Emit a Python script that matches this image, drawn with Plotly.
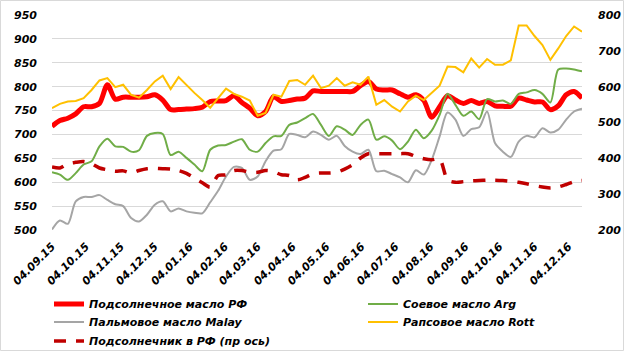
import pandas as pd
import plotly.graph_objects as go

dates = pd.date_range("2015-09-04", periods=68, freq="7D")

sunoil_rf = [717,729,734,743,758,758,765,804,774,778,778,778,779,783,772,752,752,
             753,754,757,769,770,771,781,767,755,739,748,779,769,771,774,776,791,
             790,790,790,790,790,802,811,795,793,793,785,778,783,771,736,758,781,
             772,765,771,765,769,760,759,759,776,772,768,768,752,760,783,790,776]
soy_arg = [621,616,605,619,637,644,675,691,675,674,664,667,697,703,701,657,664,
           651,637,623,668,677,678,685,690,668,664,682,696,697,720,725,734,743,
           720,697,717,710,699,720,731,689,696,687,669,685,710,692,708,741,785,
           762,739,748,732,774,769,771,764,785,788,793,785,767,836,838,836,832]
palm_malay = [501,520,513,560,569,569,573,563,554,550,525,518,532,553,560,539,545,
              539,536,535,558,582,612,632,630,605,612,644,666,669,701,699,694,706,
              699,689,697,676,664,659,668,623,624,617,610,600,625,616,647,696,746,
              731,697,711,715,748,682,664,653,685,697,694,713,704,710,731,748,754]
rape_rott = [755,764,769,770,776,793,813,818,799,804,783,777,793,811,823,795,820,
             803,787,772,756,776,796,785,779,771,739,745,783,779,812,814,804,823,
             797,802,818,802,809,804,821,762,772,758,748,769,781,772,786,802,842,
             841,830,859,840,858,846,846,855,928,928,906,887,856,880,906,926,915]
seed_rf = [376,373,385,389,391,385,373,368,364,365,359,366,371,372,371,370,366,
           358,345,332,320,352,354,366,366,361,361,366,363,354,352,340,347,357,
           359,359,361,370,382,401,413,413,413,413,413,413,405,399,396,398,340,
           333,335,337,338,339,339,338,336,333,329,324,320,317,320,327,335,338]

tick_dates = pd.date_range("2015-09-01", periods=16, freq="MS") + pd.Timedelta(days=3)
tick_labels = ["04.09.15","04.10.15","04.11.15","04.12.15","04.01.16","04.02.16",
               "04.03.16","04.04.16","04.05.16","04.06.16","04.07.16","04.08.16",
               "04.09.16","04.10.16","04.11.16","04.12.16"]
left_ticks = list(range(500, 951, 50))
right_ticks = list(range(200, 801, 100))

W, H = 624, 351
ML, MR, MT, MB = 52, 42, 15, 121
FONT = "DejaVu Sans"

fig = go.Figure()
fig.add_trace(go.Scatter(x=dates, y=sunoil_rf, name="Подсолнечное масло РФ", legend="legend",
                         line=dict(color="#FF0000", width=5, shape="spline", smoothing=0.8)))
fig.add_trace(go.Scatter(x=dates, y=soy_arg, name="Соевое масло Arg", legend="legend2",
                         line=dict(color="#70AD47", width=2, shape="spline", smoothing=0.8)))
fig.add_trace(go.Scatter(x=dates, y=palm_malay, name="Пальмовое масло Malay", legend="legend3",
                         line=dict(color="#A5A5A5", width=2, shape="spline", smoothing=0.8)))
fig.add_trace(go.Scatter(x=dates, y=rape_rott, name="Рапсовое масло Rott", legend="legend4",
                         line=dict(color="#FFC000", width=2)))
fig.add_trace(go.Scatter(x=dates, y=seed_rf, name="Подсолнечник в РФ (пр ось)", yaxis="y2",
                         legend="legend5",
                         line=dict(color="#C00000", width=3.5, dash="12px,10px",
                                   shape="spline", smoothing=0.8)))

tickfont = dict(family=FONT, size=11, color="#000000", weight="bold", style="italic")
legfont = dict(family=FONT, size=11, color="#000000", weight="bold", style="italic")
pw = W - ML - MR
ph = H - MT - MB
common_leg = dict(orientation="v", xref="container", yref="container",
                  xanchor="left", yanchor="middle", font=legfont,
                  bgcolor="rgba(0,0,0,0)", traceorder="normal")
col1, col2 = 49 / W, 363 / W
row1, row2, row3 = 1 - 304 / H, 1 - 322 / H, 1 - 341 / H
fig.update_layout(
    width=W, height=H,
    margin=dict(l=ML, r=MR, t=MT, b=MB, autoexpand=False),
    paper_bgcolor="white", plot_bgcolor="white",
    showlegend=True,
    legend=dict(x=col1, y=row1, **common_leg),
    legend2=dict(x=col2, y=row1, **common_leg),
    legend3=dict(x=col1, y=row2, **common_leg),
    legend4=dict(x=col2, y=row2, **common_leg),
    legend5=dict(x=col1, y=row3, **common_leg),
    xaxis=dict(type="date", range=[dates[0], dates[-1]],
               tickvals=tick_dates, ticktext=tick_labels, tickangle=-45,
               tickfont=tickfont, showgrid=False, zeroline=False, showline=False,
               ticks="", ticklabelstandoff=7, automargin=False),
    yaxis=dict(range=[500, 950], tickvals=left_ticks, tickfont=tickfont,
               showgrid=True, gridcolor="#D9D9D9", gridwidth=1, zeroline=False,
               showline=False, ticks="", ticklabelstandoff=14, automargin=False),
    yaxis2=dict(range=[200, 800], tickvals=right_ticks, tickfont=tickfont,
                overlaying="y", side="right", showgrid=False, zeroline=False,
                showline=False, ticks="", ticklabelstandoff=15, automargin=False),
    shapes=[dict(type="rect", xref="paper", yref="paper",
                 x0=-ML / pw + 0.5 / pw, x1=1 + (MR - 0.5) / pw,
                 y0=-(MB - 0.5) / ph, y1=1 + (MT - 0.5) / ph,
                 line=dict(color="#D9D9D9", width=1), layer="below")],
)
fig.write_html("out.html")
